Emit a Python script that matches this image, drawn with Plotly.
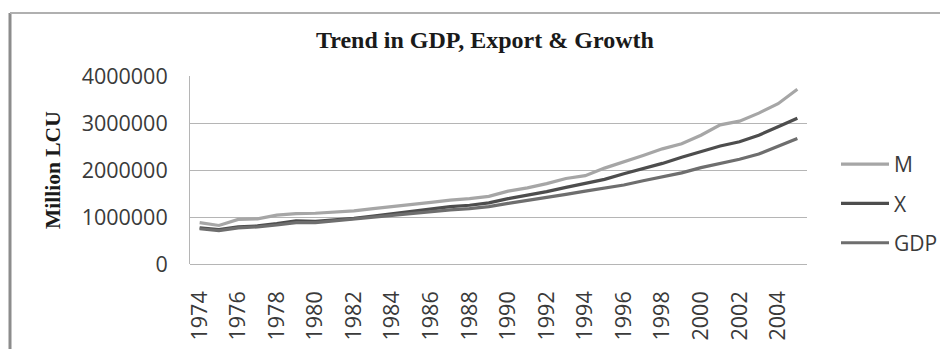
import plotly.graph_objects as go

years = list(range(1974, 2006))
tick_years = list(range(1974, 2005, 2))
tick_labels = [str(y) for y in tick_years]

M = [880000, 820000, 950000, 960000, 1040000, 1070000, 1080000, 1100000, 1130000, 1180000,
     1220000, 1270000, 1310000, 1360000, 1390000, 1440000, 1550000, 1620000, 1710000, 1820000,
     1880000, 2040000, 2170000, 2310000, 2450000, 2560000, 2740000, 2960000, 3040000, 3210000,
     3410000, 3720000]
X = [770000, 730000, 790000, 810000, 860000, 920000, 910000, 940000, 970000, 1020000,
     1070000, 1130000, 1170000, 1220000, 1250000, 1300000, 1390000, 1460000, 1540000, 1630000,
     1720000, 1800000, 1920000, 2030000, 2140000, 2270000, 2390000, 2510000, 2600000, 2740000,
     2920000, 3100000]
GDP = [750000, 710000, 770000, 790000, 830000, 880000, 880000, 920000, 950000, 1000000,
       1040000, 1080000, 1120000, 1150000, 1180000, 1220000, 1290000, 1350000, 1420000, 1480000,
       1550000, 1610000, 1680000, 1770000, 1860000, 1940000, 2050000, 2140000, 2230000, 2340000,
       2500000, 2670000]

series = [("M", M, "#a6a6a6"), ("X", X, "#4d4d4d"), ("GDP", GDP, "#6e6e6e")]

# page body adds an 8px margin; work in screen coords and shift
OFF = 8
W, H = 948 - OFF, 349 - OFF
L, R, T, B = 190 - OFF, 807 - OFF, 76 - OFF, 264 - OFF
pw, ph = R - L, B - T

def px(x):
    return (x - OFF - L) / pw

def py(y):
    return (B - (y - OFF)) / ph

def cx(x):
    return (x - OFF) / W

def cy(y):
    return 1 - (y - OFF) / H

fig = go.Figure()
for name, vals, col in series:
    fig.add_trace(go.Scatter(x=years, y=vals, mode="lines", name=name,
                             legendgroup=name,
                             line=dict(color=col, width=3.2)))

tick_font = dict(family="Open Sans", size=21.5, color="#3a3a3a")

fig.update_layout(
    width=W, height=H,
    margin=dict(l=L, r=W - R, t=T, b=H - B, pad=0, autoexpand=False),
    paper_bgcolor="white", plot_bgcolor="white",
    showlegend=True,
    legend=dict(xref="container", yref="container", x=cx(836), y=cy(144),
                xanchor="left", yanchor="top",
                font=dict(family="Open Sans", size=21, color="#3a3a3a"),
                traceorder="grouped", tracegroupgap=9, itemwidth=48,
                bgcolor="rgba(0,0,0,0)"),
    xaxis=dict(range=[1973.5, 2005.5], tickmode="array", tickvals=tick_years,
               ticktext=tick_labels, tickangle=-90, showgrid=False,
               zeroline=False, showline=False, ticks="", automargin=False,
               tickfont=tick_font, ticklabelstandoff=22),
    yaxis=dict(range=[0, 4000000], tickmode="linear", tick0=0, dtick=1000000,
               tickformat="d", showgrid=True, gridcolor="#b5b5b5", gridwidth=1,
               zeroline=True, zerolinecolor="#b5b5b5", zerolinewidth=1,
               showline=True, linecolor="#b5b5b5", linewidth=1, ticks="",
               automargin=False, tickfont=tick_font, ticklabelstandoff=17),
    annotations=[
        dict(text="<b>Trend in GDP, Export &amp; Growth</b>", xref="paper", yref="paper",
             x=px(485), y=py(40), xanchor="center", yanchor="middle", showarrow=False,
             font=dict(family="Liberation Serif", size=24, color="#1a1a1a")),
        dict(text="<b>Million LCU</b>", xref="paper", yref="paper",
             x=px(53), y=py(170), xanchor="center", yanchor="middle", showarrow=False,
             textangle=-90,
             font=dict(family="Liberation Serif", size=21.5, color="#1a1a1a")),
    ],
    shapes=[
        dict(type="line", xref="paper", yref="paper", x0=px(10), x1=px(10),
             y0=py(13), y1=py(360), line=dict(color="#8c8c8c", width=3)),
        dict(type="line", xref="paper", yref="paper", x0=px(10), x1=px(960),
             y0=py(13), y1=py(13), line=dict(color="#b0b0b0", width=2)),
    ],
)

fig.write_html("out.html")
